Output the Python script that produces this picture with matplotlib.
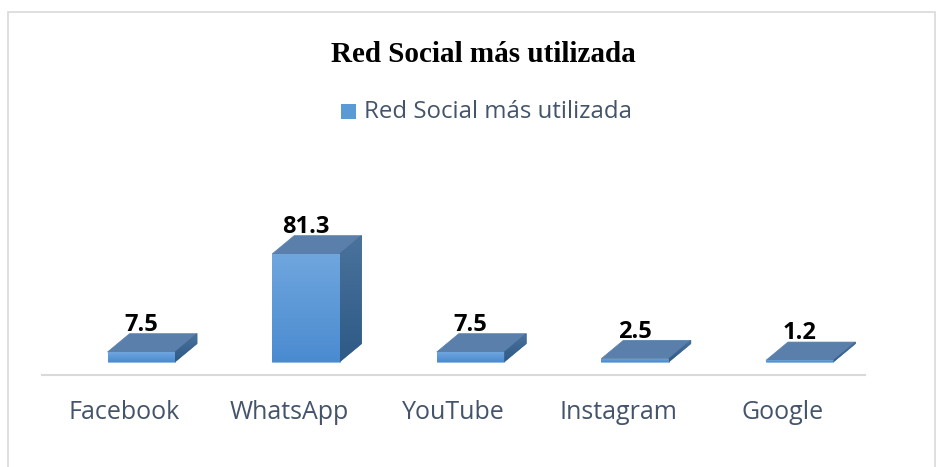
import numpy as np
import matplotlib.pyplot as plt
from matplotlib.patches import Polygon, Rectangle
from matplotlib.colors import LinearSegmentedColormap

# data
categories = ['Facebook', 'WhatsApp', 'YouTube', 'Instagram', 'Google']
values = [7.5, 81.3, 7.5, 2.5, 1.2]
labels = ['7.5', '81.3', '7.5', '2.5', '1.2']
title = 'Red Social más utilizada'
series_name = 'Red Social más utilizada'

# colours
c_front = '#5B9BD5'
c_top = '#5A7FAA'
c_side = '#3C6894'
c_text = '#44546A'
front_cmap = LinearSegmentedColormap.from_list('front', ['#4A8BD0', '#6FA6DE'])
side_cmap = LinearSegmentedColormap.from_list('side', ['#2E5A86', '#4A729C'])

fig = plt.figure(figsize=(9.43, 4.67), dpi=100)
fig.patches.append(Rectangle((8 / 943, -0.1), 927 / 943, 1.1 - 12 / 467,
                             transform=fig.transFigure, fill=False,
                             edgecolor='#D9D9D9', lw=1.2))

ax = fig.add_axes([42 / 943, (467 - 375) / 467, 823 / 943, 225 / 467])
ax.axis('off')

shift = 0.103   # front face offset to the right of the slot centre
width = 0.41
dx = 0.134      # depth in x (slot units)
dy = 13.8       # depth in y (value units)

grad = np.linspace(0, 1, 64).reshape(-1, 1)

x = np.arange(len(categories))
left = x + shift - width / 2
bars = ax.bar(left, values, width=width, align='edge', color=c_front,
              edgecolor='#8DB8E2', lw=0.6, zorder=3)
for b, l, v, lab in zip(bars, left, values, labels):
    im = ax.imshow(grad, cmap=front_cmap, origin='lower', aspect='auto',
                   extent=(l, l + width, 0, v), zorder=3.1)
    im.set_clip_path(b)
    top = Polygon([(l, v), (l + width, v), (l + width + dx, v + dy), (l + dx, v + dy)],
                  closed=True, facecolor=c_top, edgecolor=c_top, lw=0.5, zorder=3)
    side = Polygon([(l + width, 0), (l + width + dx, dy), (l + width + dx, v + dy), (l + width, v)],
                   closed=True, facecolor=c_side, edgecolor=c_side, lw=0.5, zorder=3)
    ax.add_patch(top)
    ax.add_patch(side)
    im2 = ax.imshow(grad, cmap=side_cmap, origin='lower', aspect='auto',
                    extent=(l + width, l + width + dx, 0, v + dy), zorder=3.1)
    im2.set_clip_path(side)
    ax.text(l + width / 2, v + dy - 2.5, lab, ha='center', va='bottom',
            fontsize=17, fontweight='bold', family='Open Sans', color='black')

ax.set_xlim(-0.5, 4.5)
ax.set_ylim(-9.8, 159.6)

# floor line
ax.plot([-0.5, 4.5], [-9.8, -9.8], color='#D9D9D9', lw=1.5, clip_on=False)

for xi, c in zip(x, categories):
    ax.text(xi, -9.8 - 28.5, c, ha='center', va='center', fontsize=18,
            family='Open Sans', color=c_text)

fig.text(483 / 943, 1 - 54 / 467, title, ha='center', va='center',
         fontsize=21, fontweight='bold', family='Liberation Serif', color='black')

fig.patches.append(Rectangle((341 / 943, 1 - 119 / 467), 15 / 943, 15 / 467,
                             transform=fig.transFigure, facecolor=c_front,
                             edgecolor='none'))
fig.text(364 / 943, 1 - 112 / 467, series_name, ha='left', va='center',
         fontsize=17.3, family='Open Sans', color=c_text)

fig.savefig('out.png', dpi=100)
